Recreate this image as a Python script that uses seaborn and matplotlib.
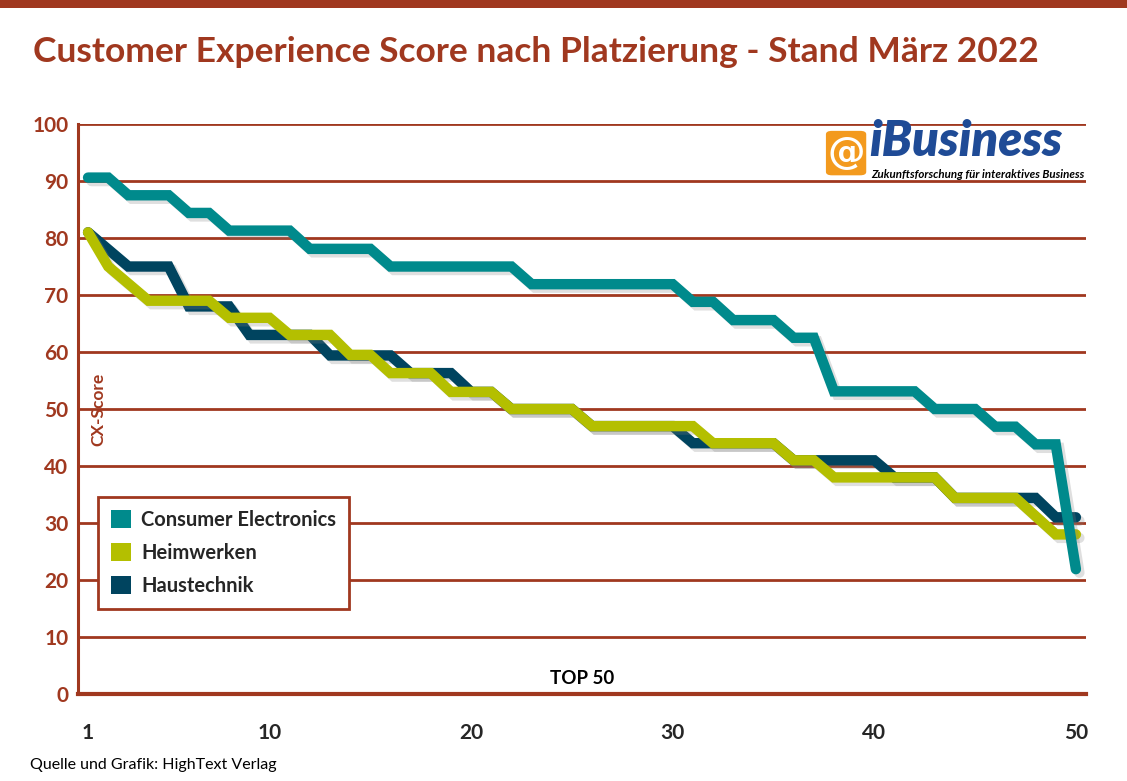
import matplotlib
matplotlib.use("Agg")
import matplotlib.pyplot as plt
import matplotlib.patheffects as pe
from matplotlib.patches import Patch, Rectangle, FancyBboxPatch
import seaborn as sns
import pandas as pd

# Platzierung 1..50
platz = list(range(1, 51))

consumer_electronics = [90.6, 90.6, 87.5, 87.5, 87.5, 84.4, 84.4, 81.3, 81.3, 81.3,
                        81.3, 78.1, 78.1, 78.1, 78.1, 75, 75, 75, 75, 75,
                        75, 75, 71.9, 71.9, 71.9, 71.9, 71.9, 71.9, 71.9, 71.9,
                        68.8, 68.8, 65.6, 65.6, 65.6, 62.5, 62.5, 53.1, 53.1, 53.1,
                        53.1, 53.1, 50, 50, 50, 46.9, 46.9, 43.8, 43.8, 21.9]
heimwerken = [81, 75, 72, 69, 69, 69, 69, 66, 66, 66,
              63, 63, 63, 59.5, 59.5, 56.3, 56.3, 56.3, 53, 53,
              53, 50, 50, 50, 50, 47, 47, 47, 47, 47,
              47, 44, 44, 44, 44, 41, 41, 38, 38, 38,
              38, 38, 38, 34.4, 34.4, 34.4, 34.4, 31.2, 28, 28]
haustechnik = [81, 78, 75, 75, 75, 68, 68, 68, 63, 63,
               63, 63, 59.4, 59.4, 59.4, 59.4, 56.3, 56.3, 56.3, 53,
               53, 50, 50, 50, 50, 47, 47, 47, 47, 47,
               44, 44, 44, 44, 44, 41, 41, 41, 41, 41,
               38, 38, 38, 34.4, 34.4, 34.4, 34.4, 34.4, 31, 31]

legend_order = ["Consumer Electronics", "Heimwerken", "Haustechnik"]
draw_order = ["Haustechnik", "Heimwerken", "Consumer Electronics"]
farben = {"Consumer Electronics": "#008a8c",
          "Heimwerken": "#b4bf00",
          "Haustechnik": "#00445f"}
rot = "#a0381f"

df = pd.DataFrame({
    "Platz": platz * 3,
    "CX-Score": consumer_electronics + heimwerken + haustechnik,
    "Branche": ["Consumer Electronics"] * 50 + ["Heimwerken"] * 50 + ["Haustechnik"] * 50,
})

sns.set_style("white")
plt.rcParams["font.family"] = ["Lato", "DejaVu Sans"]

fig = plt.figure(figsize=(11.27, 7.81), dpi=100)
ax = fig.add_axes([0.0692, 0.1114, 0.8944, 0.7298])

sns.lineplot(data=df, x="Platz", y="CX-Score", hue="Branche", hue_order=draw_order,
             palette=farben, linewidth=7.5, legend=False, ax=ax)
for line in ax.lines:
    line.set_solid_capstyle("round")
    line.set_solid_joinstyle("miter")
    line.set_path_effects([pe.SimpleLineShadow(offset=(2.5, -2.5), shadow_color="gray", alpha=0.25),
                           pe.Normal()])

ax.set_xlim(0.5, 50.5)
ax.set_ylim(0, 100)

# horizontal grid in red
for v in range(10, 101, 10):
    ax.axhline(v, color=rot, lw=2, zorder=0.5)

for s in ["top", "right"]:
    ax.spines[s].set_visible(False)
ax.spines["left"].set_color(rot)
ax.spines["left"].set_linewidth(2.2)
ax.spines["bottom"].set_color(rot)
ax.spines["bottom"].set_linewidth(3)

ax.set_yticks(range(0, 101, 10))
ax.tick_params(axis="y", length=0, pad=7, labelsize=15, labelcolor=rot)
for t in ax.get_yticklabels():
    t.set_fontweight("bold")

lang = [0.5, 1.5, 9.5, 10.5, 19.5, 20.5, 29.5, 30.5, 39.5, 40.5, 49.5, 50.5]
kurz = [k + 0.5 for k in range(1, 50) if k + 0.5 not in lang]
ax.set_xticks(lang)
ax.set_xticks(kurz, minor=True)
ax.tick_params(axis="x", which="major", length=14, width=2.2, color=rot, labelbottom=False)
ax.tick_params(axis="x", which="minor", length=9, width=2.2, color=rot)

sec = ax.secondary_xaxis("bottom")
sec.set_xticks([1, 10, 20, 30, 40, 50])
sec.tick_params(length=0, pad=21, labelsize=15)
sec.spines["bottom"].set_visible(False)
for t in sec.get_xticklabels():
    t.set_fontweight("bold")

ax.set_xlabel("")
ax.set_ylabel("")
ax.text(0.02, 0.5, "CX-Score", transform=ax.transAxes, rotation=90, ha="center", va="center",
        color=rot, fontsize=12.5, fontweight="bold")
ax.text(0.5, 0.012, "TOP 50", transform=ax.transAxes, ha="center", va="bottom",
        fontsize=13.5, fontweight="bold", color="black")

handles = [Patch(facecolor=farben[n], edgecolor="none", label=n) for n in legend_order]
leg = ax.legend(handles=handles, loc="upper left", bbox_to_anchor=(0.0198, 0.3456),
                borderaxespad=0, frameon=True, fancybox=False, framealpha=1, fontsize=14.5,
                handlelength=1.0, handleheight=1.0, handletextpad=0.5,
                labelspacing=0.65, borderpad=0.65)
leg.get_frame().set_edgecolor(rot)
leg.get_frame().set_linewidth(2)
for t in leg.get_texts():
    t.set_fontweight("bold")

# logo area between 100 and 90
ax.add_patch(Rectangle((0.74, 0.904), 0.26, 0.09, transform=ax.transAxes,
                       facecolor="white", edgecolor="none", zorder=3))
ax.add_patch(FancyBboxPatch((0.742, 0.91), 0.04, 0.078, transform=ax.transAxes,
                            boxstyle="round,pad=0,rounding_size=0.006",
                            facecolor="#f39a1e", edgecolor="none", zorder=4))
ax.text(0.762, 0.949, "@", transform=ax.transAxes, ha="center", va="center",
        fontsize=27, fontweight="bold", color="white", zorder=5, family="DejaVu Sans")
ax.text(0.785, 0.944, "iBusiness", transform=ax.transAxes, ha="left", va="baseline",
        fontsize=35, fontweight="heavy", style="italic", color="#1f4b96", zorder=5)
ax.text(0.787, 0.921, "Zukunftsforschung für interaktives Business", transform=ax.transAxes,
        ha="left", va="top", fontsize=8.3, fontweight="bold", style="italic",
        color="black", zorder=5)

fig.suptitle("Customer Experience Score nach Platzierung - Stand März 2022",
             x=0.029, y=0.934, ha="left", va="center", fontsize=25.5,
             fontweight="bold", color=rot)
fig.text(0.027, 0.012, "Quelle und Grafik: HighText Verlag", ha="left", va="bottom",
         fontsize=11.5, color="black")
fig.patches.append(Rectangle((0, 0.99), 1, 0.01, transform=fig.transFigure,
                             facecolor=rot, edgecolor="none"))

plt.savefig("out.png", dpi=100)
